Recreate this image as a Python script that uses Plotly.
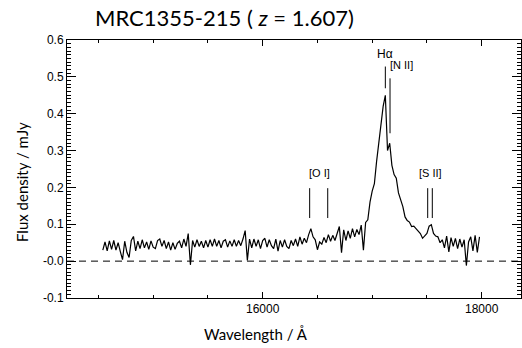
import plotly.graph_objects as go

# ---------------- data ----------------
wavelength = [
    14540, 14560, 14580, 14600, 14620, 14640, 14660, 14680, 14700, 14720,
    14740, 14760, 14780, 14800, 14820, 14840, 14860, 14880, 14900, 14920,
    14940, 14960, 14980, 15000, 15020, 15040, 15060, 15080, 15100, 15120,
    15140, 15160, 15180, 15200, 15220, 15240, 15260, 15280, 15300, 15320,
    15340, 15360, 15380, 15400, 15420, 15440, 15460, 15480, 15500, 15520,
    15540, 15560, 15580, 15600, 15620, 15640, 15660, 15680, 15700, 15720,
    15740, 15760, 15780, 15800, 15820, 15840, 15860, 15880, 15900, 15920,
    15940, 15960, 15980, 16000, 16020, 16040, 16060, 16080, 16100, 16120,
    16140, 16160, 16180, 16200, 16220, 16240, 16260, 16280, 16300, 16320,
    16340, 16360, 16380, 16400, 16420, 16440, 16460, 16480, 16500, 16520,
    16540, 16560, 16580, 16600, 16620, 16640, 16660, 16680, 16700, 16720,
    16740, 16760, 16780, 16800, 16820, 16840, 16860, 16880, 16900, 16920,
    16940, 16960, 16980, 17000, 17020, 17040, 17060, 17080, 17100, 17120,
    17140, 17160, 17180, 17200, 17220, 17240, 17260, 17280, 17300, 17320,
    17340, 17360, 17380, 17400, 17420, 17440, 17460, 17480, 17500, 17520,
    17540, 17560, 17580, 17600, 17620, 17640, 17660, 17680, 17700, 17720,
    17740, 17760, 17780, 17800, 17820, 17840, 17860, 17880, 17900, 17920,
    17940, 17960, 17980,
]
flux_mjy = [
    # 14540 - 15060
    0.030, 0.052, 0.028, 0.055, 0.032, 0.056, 0.030, 0.050, 0.026, 0.004,
    0.054, 0.024, 0.010, 0.056, 0.067, 0.028, 0.054, 0.034, 0.058, 0.036,
    0.052, 0.032, 0.055, 0.038, 0.034, 0.056, 0.060,
    # 15080 - 15460
    0.040, 0.056, 0.034, 0.052, 0.030, 0.050, 0.032, 0.048, 0.054, 0.036,
    0.060, 0.040, 0.075, -0.010, 0.056, 0.038, 0.058, 0.040, 0.054, 0.036,
    # 15480 - 15880
    0.056, 0.038, 0.058, 0.040, 0.060, 0.040, 0.056, 0.036, 0.054, 0.058,
    0.038, 0.055, 0.040, 0.058, 0.040, 0.056, 0.042, 0.060, 0.083, 0.002,
    0.060,
    # 15900 - 16340
    0.036, 0.060, 0.040, 0.058, 0.034, 0.056, 0.062, 0.038, 0.058, 0.042,
    0.034, 0.060, 0.027, 0.056, 0.038, 0.058, 0.040, 0.034, 0.056, 0.042,
    0.060, 0.040, 0.066,
    # 16360 - 16740
    0.046, 0.062, 0.050, 0.072, 0.088, 0.066, 0.058, 0.031, 0.052, 0.046,
    0.064, 0.050, 0.072, 0.054, 0.070, 0.056, 0.076, 0.094, 0.023, 0.085,
    # 16760 - 16960
    0.056, 0.082, 0.062, 0.088, 0.066, 0.086, 0.072, 0.098, 0.030, 0.105,
    0.112,
    # 16980 - 17580
    0.160, 0.190, 0.210, 0.270, 0.320, 0.360, 0.420, 0.450, 0.300, 0.320,
    0.260, 0.235, 0.225, 0.185, 0.165, 0.148, 0.120, 0.110, 0.106, 0.094,
    0.095, 0.088, 0.081, 0.075, 0.062, 0.068, 0.075, 0.095, 0.099, 0.075,
    0.068,
    # 17600 - 17980
    0.066, 0.050, 0.058, 0.036, 0.068, 0.025, 0.064, 0.040, 0.062, 0.034,
    0.060, 0.038, 0.058, -0.012, 0.052, 0.066, 0.028, 0.070, 0.024, 0.066,
]

# emission-line markers (observed wavelength, bottom and top of tick)
line_names = ["[O I]", "[O I]", "Hα", "[N II]", "[S II]", "[S II]"]
line_waves = [16429, 16594, 17120, 17163, 17507, 17549]
line_bottom = [0.117, 0.117, 0.469, 0.347, 0.117, 0.117]
line_top = [0.198, 0.198, 0.528, 0.496, 0.198, 0.198]

label_texts = ["[O I]", "Hα", "[N II]", "[S II]"]
label_waves = [16515, 17120, 17270, 17530]
label_flux = [0.239, 0.562, 0.533, 0.239]
label_sizes = [11, 12, 11, 11]

y_tickvals = [-0.1, 0.0, 0.1, 0.2, 0.3, 0.4, 0.5, 0.6]
y_ticktext = ["-0.1", "-0.0", "0.1", "0.2", "0.3", "0.4", "0.5", "0.6"]
x_tickvals = [16000, 18000]
x_ticktext = ["16000", "18000"]

# ---------------- figure ----------------
fig = go.Figure()

fig.add_trace(go.Scatter(
    x=wavelength, y=flux_mjy, mode="lines",
    line=dict(color="black", width=1.2), showlegend=False, hoverinfo="skip",
))

mx, my = [], []
for w, b, t in zip(line_waves, line_bottom, line_top):
    mx += [w, w, None]
    my += [b, t, None]
fig.add_trace(go.Scatter(
    x=mx, y=my, mode="lines", line=dict(color="black", width=1),
    showlegend=False, hoverinfo="skip",
))

for txt, w, f, s in zip(label_texts, label_waves, label_flux, label_sizes):
    fig.add_annotation(x=w, y=f, text=txt, showarrow=False,
                       font=dict(family="Liberation Sans", size=s, color="black"),
                       xanchor="center", yanchor="middle")

fig.add_shape(type="line", xref="paper", yref="y", x0=0, x1=1, y0=0, y1=0,
              line=dict(color="black", width=1, dash="7px,5px"))

fig.add_annotation(xref="paper", yref="paper", x=0.0, y=1.0,
                   text="MRC1355-215 ( <i>z</i> = 1.607)", showarrow=False,
                   xanchor="left", yanchor="bottom", xshift=26, yshift=7,
                   font=dict(family="Lato", size=22, color="black"))

fig.add_annotation(xref="paper", yref="paper", x=0, y=0.5,
                   text="Flux density / mJy", showarrow=False, textangle=-90,
                   xanchor="center", yanchor="middle", xshift=-45, yshift=-13,
                   font=dict(family="Lato", size=15, color="black"))

fig.add_annotation(xref="paper", yref="paper", x=0.5, y=0,
                   text="Wavelength / Å", showarrow=False,
                   xanchor="center", yanchor="middle", xshift=-38, yshift=-36,
                   font=dict(family="Lato", size=15, color="black"))

fig.update_xaxes(
    range=[14213, 18359], tickvals=x_tickvals, ticktext=x_ticktext,
    ticks="inside", ticklen=6, tickwidth=1, tickcolor="black",
    showline=True, linecolor="black", linewidth=1, mirror="allticks",
    showgrid=False, zeroline=False,
    minor=dict(dtick=500, tick0=14000, ticks="inside", ticklen=3, tickcolor="black", showgrid=False),
    tickfont=dict(family="Liberation Sans", size=12, color="black"),
)
fig.update_yaxes(
    range=[-0.1, 0.6], tickvals=y_tickvals, ticktext=y_ticktext,
    ticks="inside", ticklen=9, tickwidth=1, tickcolor="black",
    showline=True, linecolor="black", linewidth=1, mirror="allticks",
    showgrid=False, zeroline=False,
    minor=dict(dtick=0.01, tick0=0, ticks="inside", ticklen=4, tickcolor="black", showgrid=False),
    tickfont=dict(family="Liberation Sans", size=12, color="black"),
)

fig.update_layout(
    width=522, height=348,
    margin=dict(l=67, r=1, t=40, b=50),
    plot_bgcolor="white", paper_bgcolor="white",
    showlegend=False,
)

fig.write_html("out.html", config={"displayModeBar": False},
               post_script="document.body.style.margin='0';document.body.style.padding='0';")
